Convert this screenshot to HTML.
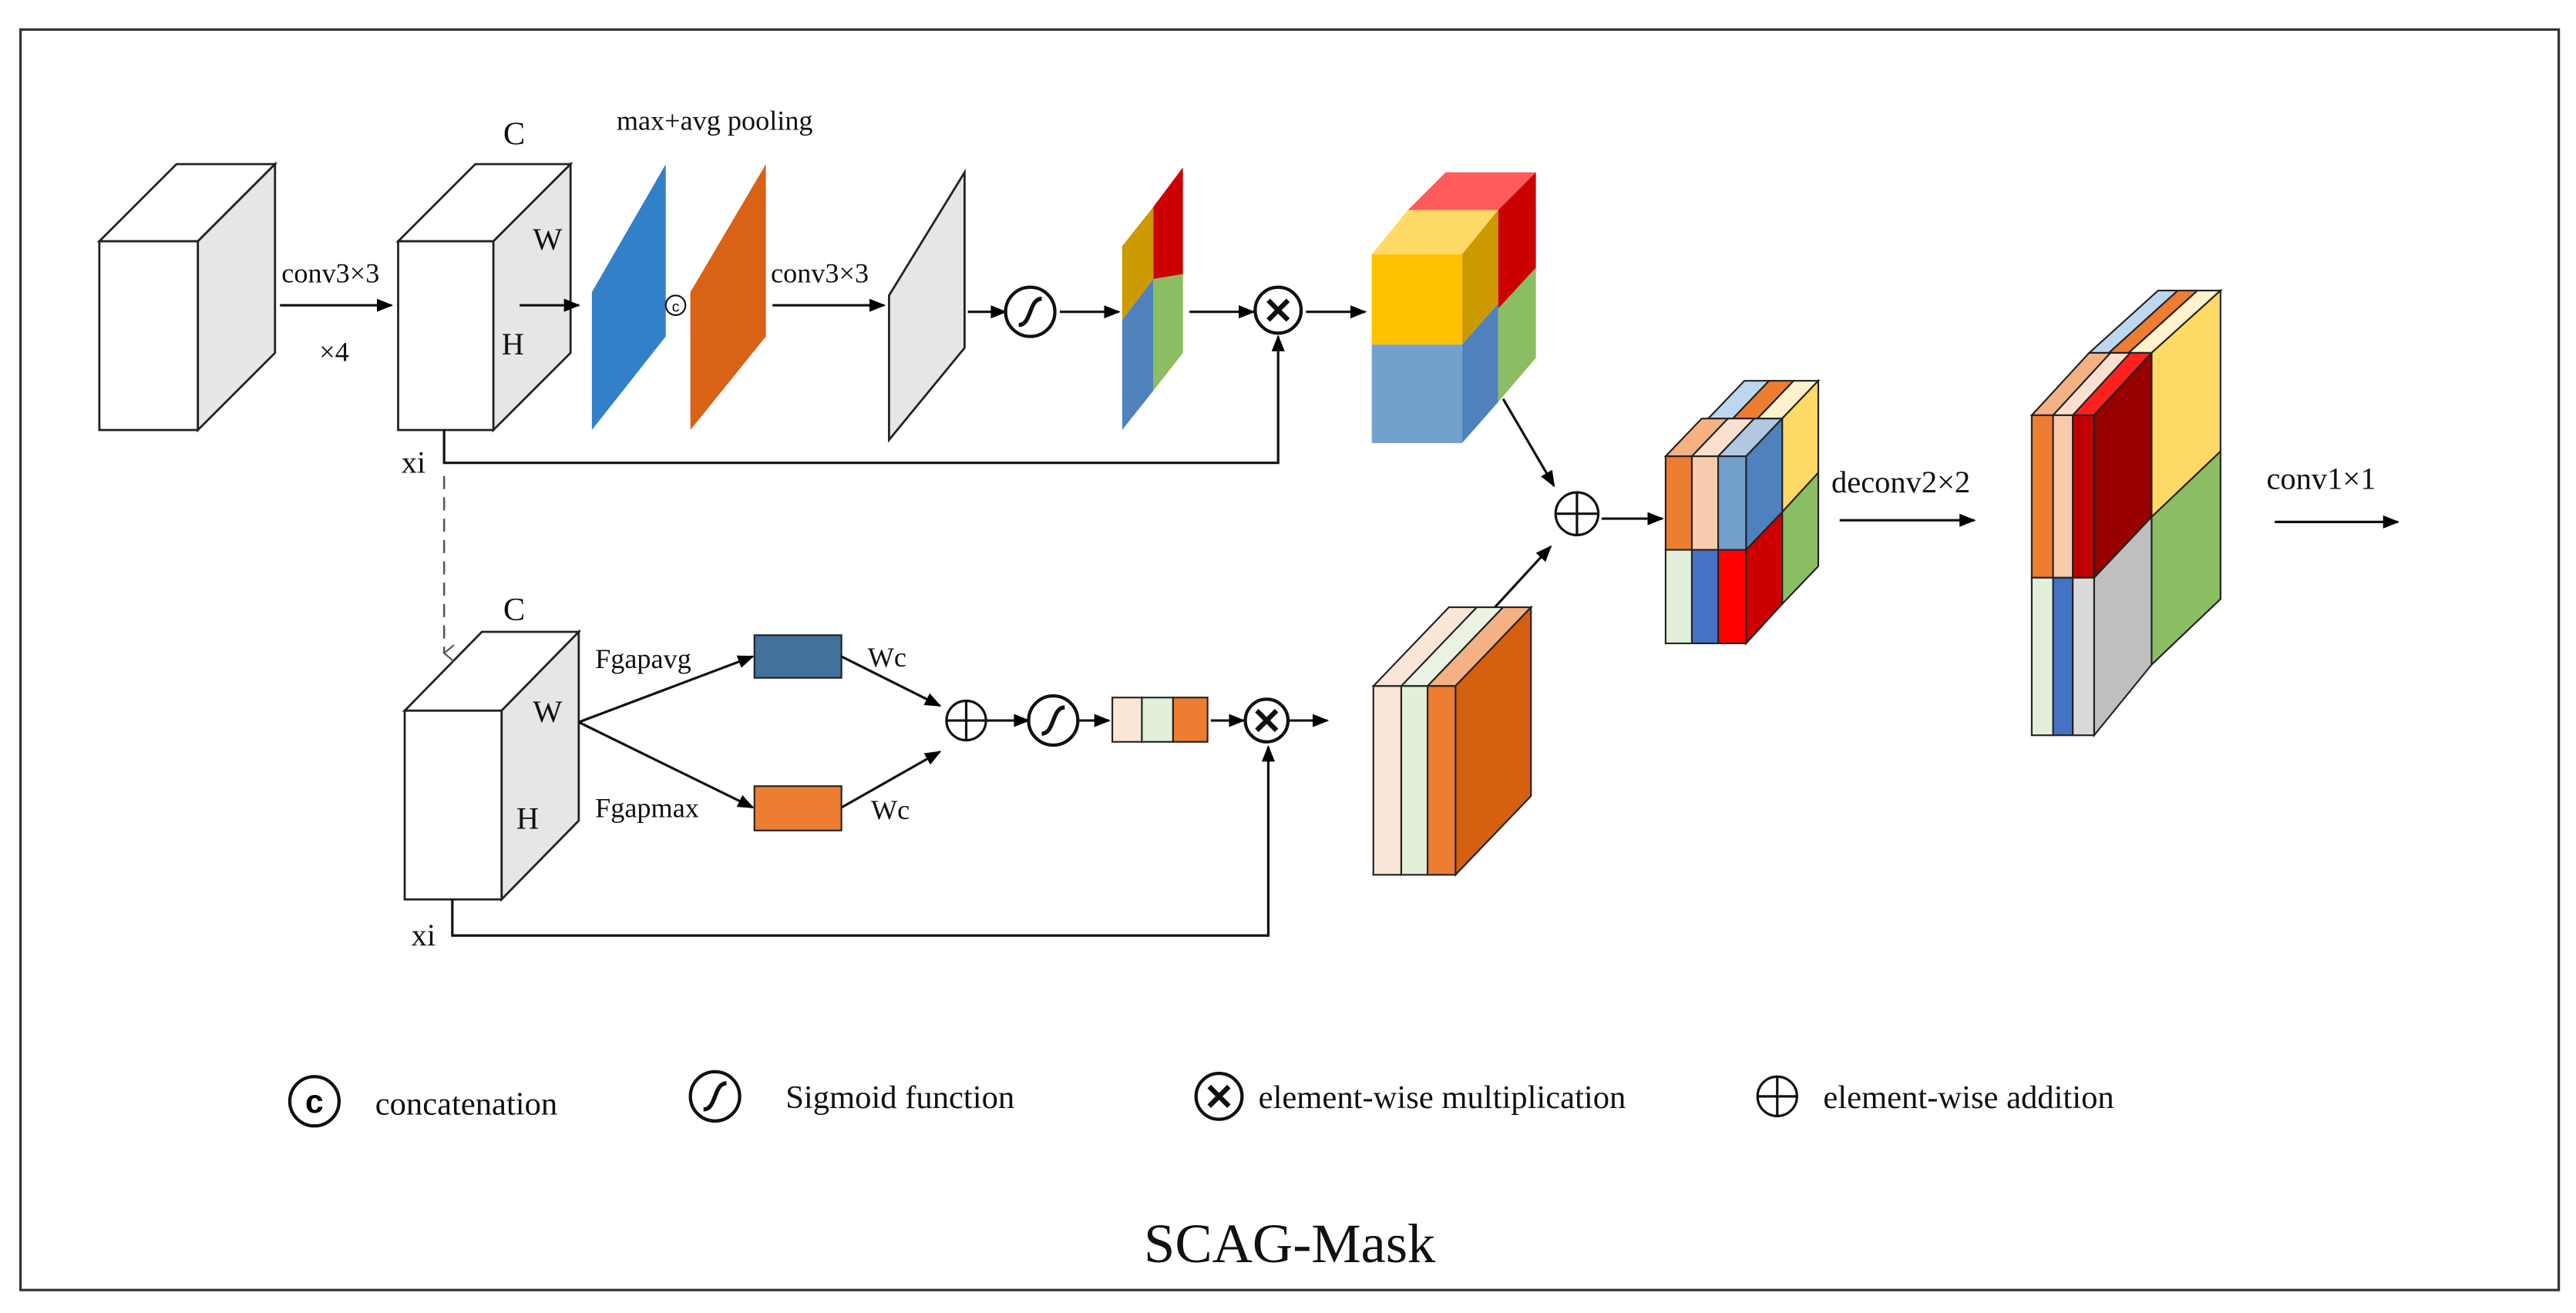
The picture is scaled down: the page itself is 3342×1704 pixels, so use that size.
<!DOCTYPE html>
<html><head><style>html,body{margin:0;padding:0;background:#fff}svg{display:block}</style></head>
<body>
<svg width="3342" height="1704" viewBox="0 0 1568 800" xmlns="http://www.w3.org/2000/svg" font-family="Liberation Serif, serif">
<defs>
<marker id="a" markerWidth="10" markerHeight="10" refX="9" refY="5" orient="auto" markerUnits="userSpaceOnUse"><path d="M0,1 L10,5 L0,9 z" fill="#000"/></marker>
<marker id="o" markerWidth="12" markerHeight="12" refX="6" refY="11" orient="auto-start-reverse" markerUnits="userSpaceOnUse"><path d="M1,5 L6,11 L11,5" fill="none" stroke="#555" stroke-width="1"/></marker>
</defs>
<rect x="12" y="18" width="1546" height="768" fill="#fff" stroke="#333" stroke-width="1.5"/>
<g stroke="#222" stroke-width="1.3">
<polygon points="60,147 120,147 167,100 107,100" fill="#fff"/>
<polygon points="120,147 167,100 167,215 120,262" fill="#e6e6e6"/>
<rect x="60" y="147" width="60" height="115" fill="#fff"/>
<polygon points="242,147 300,147 347,100 289,100" fill="#fff"/>
<polygon points="300,147 347,100 347,215 300,262" fill="#e6e6e6"/>
<rect x="242" y="147" width="58" height="115" fill="#fff"/>
<polygon points="541,180 587,105 587,212 541,268" fill="#e6e6e6"/>
<polygon points="246,433 305,433 352,385 293,385" fill="#fff"/>
<polygon points="305,433 352,385 352,500 305,548" fill="#e6e6e6"/>
<rect x="246" y="433" width="59" height="115" fill="#fff"/>
</g>
<polygon points="360,178 405,100 405,205 360,262" fill="#3280c8"/>
<polygon points="420,178 466,100 466,205 420,262" fill="#d86216"/>
<polygon points="683,150 702,126 702,170 683,195" fill="#cc9900"/>
<polygon points="702,126 720,102 720,167 702,170" fill="#cc0000"/>
<polygon points="683,195 702,170 702,238 683,262" fill="#4f81bd"/>
<polygon points="702,170 720,167 720,215 702,238" fill="#8bbd62"/>
<polygon points="857,128 880,105 935,105 912,128" fill="#ff5b5b"/>
<polygon points="912,128 935,105 935,165 912,188" fill="#cc0000"/>
<polygon points="912,188 935,163 935,218 912,245" fill="#8bbd62"/>
<polygon points="835,155 857,128 912,128 890,155" fill="#ffd966"/>
<polygon points="890,155 912,128 912,185 890,210" fill="#cc9900"/>
<polygon points="890,210 912,185 912,245 890,270" fill="#4f81bd"/>
<rect x="835" y="155" width="55" height="55" fill="#ffc000"/>
<rect x="835" y="210" width="55" height="60" fill="#74a0cc"/>
<g stroke="#222" stroke-width="1">
<polygon points="1040,255 1062,232 1077,232 1055,255" fill="#bdd7ee"/>
<polygon points="1055,255 1077,232 1092,232 1070,255" fill="#ed7d31"/>
<polygon points="1070,255 1092,232 1107,232 1085,255" fill="#fff2cc"/>
<polygon points="1085,255 1107,232 1107,288 1085,312" fill="#ffd966"/>
<polygon points="1085,312 1107,288 1107,345 1085,368" fill="#8bbd62"/>
<polygon points="1014,278 1036,255 1052,255 1030,278" fill="#f4b183"/>
<polygon points="1030,278 1052,255 1068,255 1046,278" fill="#fbe0d0"/>
<polygon points="1046,278 1068,255 1085,255 1063,278" fill="#b0c8e0"/>
<polygon points="1063,278 1085,255 1085,312 1063,335" fill="#4f81bd"/>
<polygon points="1063,335 1085,312 1085,368 1063,392" fill="#cc0000"/>
<rect x="1014" y="278" width="16" height="57" fill="#ed7d31"/>
<rect x="1030" y="278" width="16" height="57" fill="#f8cbad"/>
<rect x="1046" y="278" width="17" height="57" fill="#74a0cc"/>
<rect x="1014" y="335" width="16" height="57" fill="#e2efda"/>
<rect x="1030" y="335" width="16" height="57" fill="#4472c4"/>
<rect x="1046" y="335" width="17" height="57" fill="#ff0000"/>
<polygon points="1272,215 1314,177 1326,177 1284,215" fill="#bdd7ee"/>
<polygon points="1284,215 1326,177 1338,177 1296,215" fill="#ed7d31"/>
<polygon points="1296,215 1338,177 1352,177 1310,215" fill="#fff2cc"/>
<polygon points="1310,215 1352,177 1352,275 1310,315" fill="#ffd966"/>
<polygon points="1310,315 1352,275 1352,365 1310,405" fill="#8bbd62"/>
<polygon points="1237,253 1272,215 1285,215 1250,253" fill="#f4b183"/>
<polygon points="1250,253 1285,215 1297,215 1262,253" fill="#fbe0d0"/>
<polygon points="1262,253 1297,215 1310,215 1275,253" fill="#ff2020"/>
<polygon points="1275,253 1310,215 1310,315 1275,352" fill="#990000"/>
<polygon points="1275,352 1310,315 1310,405 1275,448" fill="#bfbfbf"/>
<rect x="1237" y="253" width="13" height="99" fill="#ed7d31"/>
<rect x="1250" y="253" width="12" height="99" fill="#f8cbad"/>
<rect x="1262" y="253" width="13" height="99" fill="#c00000"/>
<rect x="1237" y="352" width="13" height="96" fill="#e2efda"/>
<rect x="1250" y="352" width="12" height="96" fill="#4472c4"/>
<rect x="1262" y="352" width="13" height="96" fill="#d9d9d9"/>
<polygon points="836,418 882,370 899,370 853,418" fill="#fbe5d6"/>
<polygon points="853,418 899,370 915,370 869,418" fill="#eaf3e3"/>
<polygon points="869,418 915,370 932,370 886,418" fill="#f4b183"/>
<polygon points="886,418 932,370 932,485 886,533" fill="#d46010"/>
<rect x="836" y="418" width="17" height="115" fill="#fbe5d6"/>
<rect x="853" y="418" width="16" height="115" fill="#e2f0d9"/>
<rect x="869" y="418" width="17" height="115" fill="#ed7d31"/>
<rect x="677" y="425" width="18" height="27" fill="#fbe5d6"/>
<rect x="695" y="425" width="19" height="27" fill="#e2f0d9"/>
<rect x="714" y="425" width="21" height="27" fill="#ed7d31"/>
<rect x="459" y="387" width="53" height="26" fill="#41719c"/>
<rect x="459" y="479" width="53" height="27" fill="#ed7d31"/>
</g>
<g stroke="#111" stroke-width="1.5" fill="none" marker-end="url(#a)">
<line x1="170" y1="186" x2="238" y2="186"/>
<line x1="316" y1="186" x2="352" y2="186"/>
<line x1="470" y1="186" x2="538" y2="186"/>
<line x1="589" y1="190" x2="612" y2="190"/>
<line x1="645" y1="190" x2="681" y2="190"/>
<line x1="724" y1="190" x2="763" y2="190"/>
<line x1="795" y1="190" x2="831" y2="190"/>
<polyline points="270,262 270,282 778,282 778,205"/>
<line x1="915" y1="243" x2="946" y2="296"/>
<line x1="910" y1="370" x2="944" y2="333"/>
<line x1="975" y1="316" x2="1012" y2="316"/>
<line x1="1120" y1="317" x2="1202" y2="317"/>
<line x1="1385" y1="318" x2="1460" y2="318"/>
<line x1="352" y1="440" x2="458" y2="400"/>
<line x1="352" y1="440" x2="458" y2="492"/>
<line x1="512" y1="400" x2="572" y2="430"/>
<line x1="512" y1="492" x2="572" y2="458"/>
<line x1="600" y1="439" x2="626" y2="439"/>
<line x1="657" y1="439" x2="675" y2="439"/>
<line x1="737" y1="439" x2="757" y2="439"/>
<line x1="785" y1="439" x2="808" y2="439"/>
<polyline points="275,548 275,570 772,570 772,455"/>
</g>
<line x1="270" y1="290" x2="270" y2="398" stroke="#555" stroke-width="1.2" stroke-dasharray="8,5" marker-end="url(#o)"/>
<g fill="#fff" stroke="#111" stroke-width="2">
<circle cx="627" cy="190" r="15"/><circle cx="641" cy="439" r="15"/>
<circle cx="778" cy="189" r="14"/><circle cx="771" cy="439" r="13"/>
<circle cx="960" cy="313" r="13" stroke-width="1.5"/><circle cx="588" cy="439" r="12" stroke-width="1.5"/>
<circle cx="411" cy="186" r="6" stroke-width="1"/>
<circle cx="191" cy="671" r="15"/><circle cx="435" cy="668" r="15"/><circle cx="742" cy="668" r="14"/><circle cx="1082" cy="668" r="12" stroke-width="1.5"/>
</g>
<g stroke="#111" stroke-width="1.5" fill="none">
<path d="M620,198 C628,198 626,182 634,182" stroke-width="2.5"/>
<path d="M634,447 C642,447 640,431 648,431" stroke-width="2.5"/>
<path d="M428,676 C436,676 434,660 442,660" stroke-width="2.5"/>
<path d="M772,183 L784,195 M784,183 L772,195" stroke-width="3"/>
<path d="M765,433 L777,445 M777,433 L765,445" stroke-width="3"/>
<path d="M736,662 L748,674 M748,662 L736,674" stroke-width="3"/>
<path d="M947,313 H973 M960,300 V326"/>
<path d="M576,439 H600 M588,427 V451"/>
<path d="M1070,668 H1094 M1082,656 V680"/>
</g>
<text x="191" y="678" font-size="20" font-weight="bold" text-anchor="middle" font-family="Liberation Sans, sans-serif">c</text>
<text x="411" y="190" font-size="9" text-anchor="middle" font-family="Liberation Sans, sans-serif">c</text>
<g font-size="17" fill="#111">
<text x="171" y="172">conv3×3</text>
<text x="194" y="220">×4</text>
<text x="306" y="88" font-size="20">C</text>
<text x="324" y="152" font-size="19">W</text>
<text x="305" y="216" font-size="19">H</text>
<text x="375" y="79">max+avg pooling</text>
<text x="469" y="172">conv3×3</text>
<text x="244" y="288" font-size="19">xi</text>
<text x="306" y="378" font-size="20">C</text>
<text x="324" y="440" font-size="19">W</text>
<text x="314" y="505" font-size="19">H</text>
<text x="250" y="576" font-size="19">xi</text>
<text x="362" y="407">Fgapavg</text>
<text x="362" y="498">Fgapmax</text>
<text x="528" y="406">Wc</text>
<text x="530" y="499">Wc</text>
<text x="1115" y="300" font-size="19">deconv2×2</text>
<text x="1380" y="298" font-size="19">conv1×1</text>
</g>
<g font-size="20" fill="#111">
<text x="228" y="679">concatenation</text>
<text x="478" y="675">Sigmoid function</text>
<text x="766" y="675">element-wise multiplication</text>
<text x="1110" y="675">element-wise addition</text>
</g>
<text x="785" y="769" font-size="34" text-anchor="middle" fill="#111">SCAG-Mask</text>
</svg>
</body></html>
